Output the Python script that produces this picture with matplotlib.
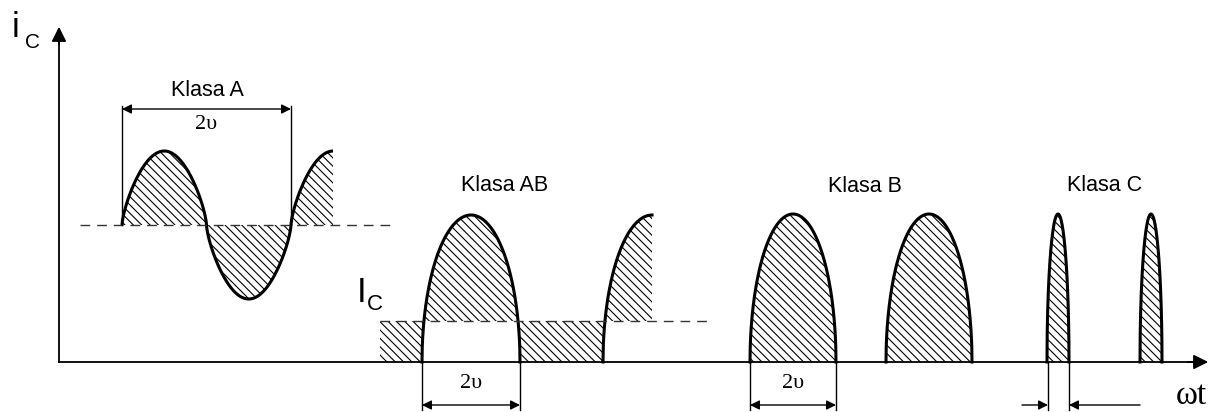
import numpy as np
import matplotlib.pyplot as plt

plt.rcParams['hatch.linewidth'] = 0.8

# heights measured upward from the time axis, positions along it (pixel-like units)
klasy = ["Klasa A", "Klasa AB", "Klasa B", "Klasa C"]
klasy_xy = [(207, 272), (505, 177), (865, 176), (1105, 177)]

# klasa A: sine around the quiescent level
a_level = 137
a_amp = 74
a_start = 122
a_halfper = 84.5
a_end = 333
a_dash = [80, 392]

# klasa AB: cut pulses above I_C
ab_level = 41
ab_centers = [471, 652]
ab_half = 49
ab_peak = 147
ab_from = 380
ab_dash = [380, 710]

# klasa B and C
b_centers = [793, 929]
b_half = 43
b_peak = 148
c_centers = [1058, 1151]
c_half = 11
c_peak = 148


def pulse(x, c, half, peak, p=0.5):
    u = (x - c) / half
    return np.where(np.abs(u) < 1, peak * np.clip(1 - u**2, 0, None)**p, 0.0)


def sine(x):
    ph = np.pi * (x - a_start) / a_halfper
    s = np.sin(ph)
    return a_level + a_amp * np.sign(s) * np.abs(s)**0.7


fig = plt.figure(figsize=(12.11, 4.12), dpi=100)
ax = fig.add_axes([0, 0, 1, 1])
ax.set_xlim(0, 1211)
ax.set_ylim(-50, 362)
ax.axis('off')

hatch = dict(facecolor='none', edgecolor='k', linewidth=0, hatch='\\\\\\\\')
dash = dict(color='#333333', lw=1, dashes=(7, 5))

# axes with arrows
ax.plot([59, 59], [0, 325], color='k', lw=1.3)
ax.annotate('', xy=(59, 338), xytext=(59, 315),
            arrowprops=dict(arrowstyle='-|>', color='k', lw=1.3, mutation_scale=22))
ax.plot([59, 1195], [0, 0], color='k', lw=1.3)
ax.annotate('', xy=(1211, 0), xytext=(1185, 0),
            arrowprops=dict(arrowstyle='-|>', color='k', lw=1.3, mutation_scale=22))

# klasa A
xa = np.linspace(a_start, a_end, 600)
ya = sine(xa)
ax.fill_between(xa, a_level, ya, **hatch)
ax.plot(xa, ya, color='k', lw=2.2, solid_capstyle='butt')
ax.plot(a_dash, [a_level, a_level], **dash)

# klasa AB
xab = np.linspace(ab_from, ab_centers[1], 1500)
yab = pulse(xab, ab_centers[0], ab_half, ab_peak) + pulse(xab, ab_centers[1], ab_half, ab_peak)
ax.fill_between(xab, ab_level, yab, **hatch)
x1 = np.linspace(ab_centers[0] - ab_half, ab_centers[0] + ab_half, 400)
ax.plot(x1, pulse(x1, ab_centers[0], ab_half, ab_peak), color='k', lw=2.2)
x2 = np.linspace(ab_centers[1] - ab_half, ab_centers[1], 300)
ax.plot(x2, pulse(x2, ab_centers[1], ab_half, ab_peak), color='k', lw=2.2)
ax.plot(ab_dash, [ab_level, ab_level], **dash)

# klasa B and C
for centers, half, peak in [(b_centers, b_half, b_peak), (c_centers, c_half, c_peak)]:
    for c in centers:
        xp = np.linspace(c - half, c + half, 400)
        yp = pulse(xp, c, half, peak)
        ax.fill_between(xp, 0, yp, **hatch)
        ax.plot(xp, yp, color='k', lw=2.2)

# labels
for name, (x, y) in zip(klasy, klasy_xy):
    ax.text(x, y, name, ha='center', va='center', fontsize=15.5, family='Liberation Sans')

ax.text(12, 335, 'i', fontsize=25, family='Liberation Sans', va='center', ha='left')
ax.text(25, 320, 'C', fontsize=15, family='Liberation Sans', va='center', ha='left')
ax.text(357, 69, 'I', fontsize=25, family='Liberation Sans', va='center', ha='left')
ax.text(367, 57, 'C', fontsize=16, family='Liberation Sans', va='center', ha='left')
ax.text(1207, -49, 'ωt', fontsize=24, family='Liberation Serif', va='bottom', ha='right')

arr = dict(arrowstyle='<|-|>', color='k', lw=1, shrinkA=0, shrinkB=0, mutation_scale=14)
one = dict(arrowstyle='-|>', color='k', lw=1, shrinkA=0, shrinkB=0, mutation_scale=14)

# 2υ for klasa A (above)
xr = a_start + 2 * a_halfper
ax.plot([a_start, a_start], [a_level, 256], color='k', lw=1)
ax.plot([xr, xr], [a_level, 256], color='k', lw=1)
ax.annotate('', xy=(xr, 253), xytext=(a_start, 253), arrowprops=arr)
ax.text((a_start + xr) / 2, 238, '2υ', ha='center', va='center', fontsize=16, family='Liberation Serif')

# 2υ below the axis
for l, r in [(ab_centers[0] - ab_half, ab_centers[0] + ab_half), (b_centers[0] - b_half, b_centers[0] + b_half)]:
    ax.plot([l, l], [0, -48], color='k', lw=1)
    ax.plot([r, r], [0, -48], color='k', lw=1)
    ax.annotate('', xy=(r, -43), xytext=(l, -43), arrowprops=arr)
    ax.text((l + r) / 2, -21, '2υ', ha='center', va='center', fontsize=16, family='Liberation Serif')

cl, cr = c_centers[0] - c_half + 1, c_centers[0] + c_half
ax.plot([cl, cl], [0, -48], color='k', lw=1)
ax.plot([cr, cr], [0, -48], color='k', lw=1)
ax.annotate('', xy=(cl, -43), xytext=(1022, -43), arrowprops=one)
ax.annotate('', xy=(cr, -43), xytext=(1140, -43), arrowprops=one)

fig.savefig('out.png', dpi=100, facecolor='white')
